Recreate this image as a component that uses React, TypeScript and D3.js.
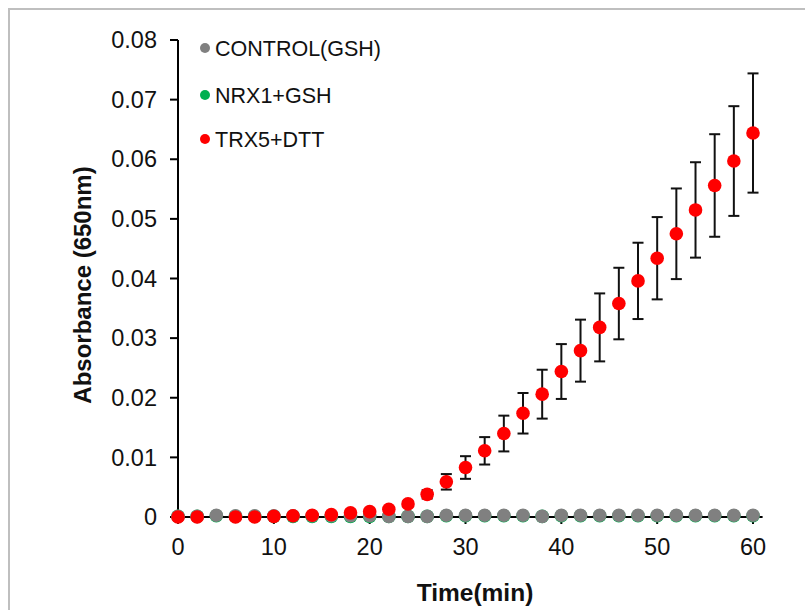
import React from "react";
import * as d3 from "d3";

const times = [0, 2, 4, 6, 8, 10, 12, 14, 16, 18, 20, 22, 24, 26, 28, 30, 32, 34, 36, 38, 40, 42, 44, 46, 48, 50, 52, 54, 56, 58, 60];

const controlValues = [0.0001, 0.0001, 0.0003, 0.0002, 0.0002, 0.0002, 0.0002, 0.0002, 0.0002, 0.0002, 0.0002, 0.0001, 0.0001, 0.0001, 0.0003, 0.0003, 0.0003, 0.0003, 0.0003, 0.0001, 0.0003, 0.0003, 0.0003, 0.0003, 0.0003, 0.0003, 0.0003, 0.0003, 0.0003, 0.0003, 0.0003];

const nrxValues = [0.0001, 0.0001, 0.0002, 0.0001, 0.0001, 0.0001, 0.0001, 0.0001, 0.0001, 0.0001, 0.0001, 0.0001, 0.0001, 0.0001, 0.0002, 0.0002, 0.0002, 0.0002, 0.0002, 0.0001, 0.0002, 0.0002, 0.0002, 0.0002, 0.0002, 0.0002, 0.0002, 0.0002, 0.0002, 0.0002, 0.0002];

const trxValues: (number | null)[] = [0, 0, null, 0, 0, 0.0001, 0.0002, 0.0003, 0.0004, 0.0007, 0.0009, 0.0013, 0.0022, 0.0038, 0.0059, 0.0083, 0.0111, 0.014, 0.0174, 0.0206, 0.0244, 0.0279, 0.0318, 0.0358, 0.0396, 0.0434, 0.0475, 0.0515, 0.0556, 0.0597, 0.0644];

const trxErrors = [0.0001, 0.0001, 0, 0.0001, 0.0001, 0.0001, 0.0001, 0.0001, 0.0002, 0.0002, 0.0002, 0.0003, 0.0004, 0.0007, 0.0013, 0.0019, 0.0023, 0.003, 0.0034, 0.0041, 0.0046, 0.0052, 0.0057, 0.006, 0.0064, 0.0069, 0.0076, 0.008, 0.0086, 0.0092, 0.01];

const yTicks = [0, 0.01, 0.02, 0.03, 0.04, 0.05, 0.06, 0.07, 0.08];
const yTickLabels = ["0", "0.01", "0.02", "0.03", "0.04", "0.05", "0.06", "0.07", "0.08"];
const xTicks = [0, 10, 20, 30, 40, 50, 60];

const seriesNames = ["CONTROL(GSH)", "NRX1+GSH", "TRX5+DTT"];
const seriesColors = ["#808080", "#00b050", "#ff0000"];

const FONT = "'Liberation Sans', Arial, sans-serif";

export default function App() {
  const x = d3.scaleLinear().domain([0, 61]).range([178, 762.6]);
  const y = d3.scaleLinear().domain([0, 0.08]).range([517, 40]);
  const r = 6.8;
  const textColor = "#111";

  return (
    <svg width={805} height={610} style={{ position: "absolute", left: 0, top: 0, background: "#fff" }}>
      <rect x={0} y={0} width={805} height={610} fill="#fff" />
      <rect x={9} y={9} width={900} height={700} fill="none" stroke="#bfbfbf" strokeWidth={2} />

      {/* Y axis */}
      <line x1={x(0)} x2={x(0)} y1={y(0.08)} y2={y(0)} stroke="#000" strokeWidth={2} />
      {yTicks.map((t, i) => (
        <g key={"yt" + i}>
          <line x1={x(0) - 8} x2={x(0)} y1={y(t)} y2={y(t)} stroke="#000" strokeWidth={2} />
          <text x={157} y={y(t)} dy="0.35em" textAnchor="end" fontFamily={FONT} fontSize={23.5} fill={textColor}>
            {yTickLabels[i]}
          </text>
        </g>
      ))}

      {/* X axis */}
      <line x1={x(0)} x2={x(61)} y1={y(0)} y2={y(0)} stroke="#000" strokeWidth={2} />
      {xTicks.map((t) => (
        <g key={"xt" + t}>
          <line x1={x(t)} x2={x(t)} y1={y(0)} y2={y(0) + 7} stroke="#000" strokeWidth={2} />
          <text x={x(t)} y={547} dy="0.35em" textAnchor="middle" fontFamily={FONT} fontSize={23.5} fill={textColor}>
            {t}
          </text>
        </g>
      ))}

      {/* Axis titles */}
      <text
        transform={`translate(83, 285) rotate(-90)`}
        textAnchor="middle"
        dy="0.35em"
        fontFamily={FONT}
        fontSize={24}
        fontWeight="bold"
        fill={textColor}
      >
        Absorbance (650nm)
      </text>
      <text x={475} y={592} dy="0.35em" textAnchor="middle" fontFamily={FONT} fontSize={24.5} fontWeight="bold" fill={textColor}>
        Time(min)
      </text>

      {/* NRX1 series (hidden under others) */}
      {times.map((t, i) => (
        <circle key={"n" + i} cx={x(t)} cy={y(nrxValues[i])} r={r} fill={seriesColors[1]} />
      ))}

      {/* Control series */}
      {times.map((t, i) => (
        <circle key={"c" + i} cx={x(t)} cy={y(controlValues[i])} r={r} fill={seriesColors[0]} />
      ))}

      {/* TRX5 error bars */}
      {times.map((t, i) => {
        const v = trxValues[i];
        if (v === null) return null;
        const e = trxErrors[i];
        const cx = x(t);
        return (
          <g key={"e" + i} stroke="#111" strokeWidth={2}>
            <line x1={cx} x2={cx} y1={y(v + e)} y2={y(v - e)} />
            <line x1={cx - 5.5} x2={cx + 5.5} y1={y(v + e)} y2={y(v + e)} />
            <line x1={cx - 5.5} x2={cx + 5.5} y1={y(v - e)} y2={y(v - e)} />
          </g>
        );
      })}

      {/* TRX5 series */}
      {times.map((t, i) => {
        const v = trxValues[i];
        if (v === null) return null;
        return <circle key={"t" + i} cx={x(t)} cy={y(v)} r={r} fill={seriesColors[2]} />;
      })}

      {/* Legend */}
      {seriesNames.map((name, i) => {
        const ly = [48, 95, 139][i];
        return (
          <g key={"lg" + i}>
            <circle cx={205} cy={ly} r={5} fill={seriesColors[i]} />
            <text x={215} y={ly} dy="0.35em" fontFamily={FONT} fontSize={21.5} fill={textColor}>
              {name}
            </text>
          </g>
        );
      })}
    </svg>
  );
}
